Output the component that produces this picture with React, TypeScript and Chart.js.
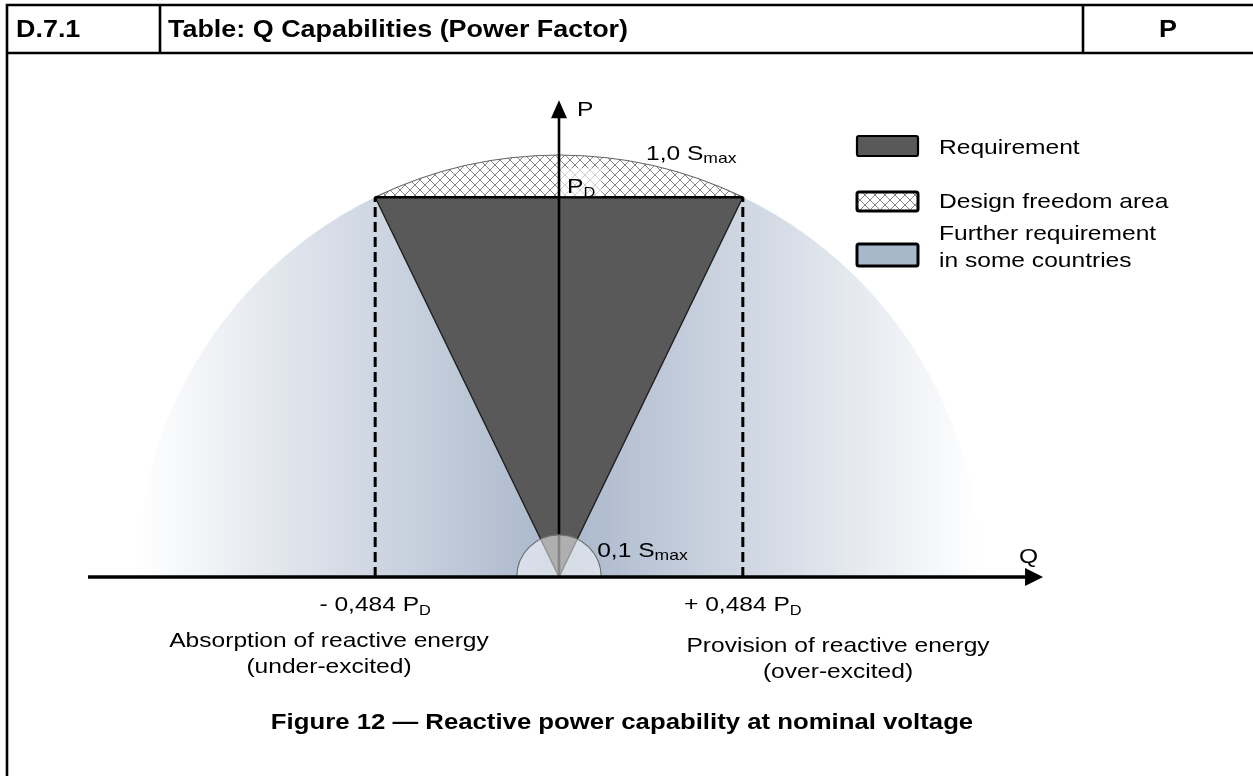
import { useEffect, useRef } from "react";
import { Chart, registerables } from "chart.js";

Chart.register(...registerables);

// ---------- data ----------
const S_MAX = 1.0; // apparent power limit (large semicircle)
const S_MIN = 0.1; // small semicircle near the origin
const P_D = 0.9; // design active power
const Q_FACTORS = [-0.484, 0.484]; // reactive power limits as factor of P_D
const Q_TICK_LABELS = ["- 0,484 P", "+ 0,484 P"];
const SIDE_LABELS = [
  ["Absorption of reactive energy", "(under-excited)"],
  ["Provision of reactive energy", "(over-excited)"],
];
const LEGEND_LABELS = [
  ["Requirement"],
  ["Design freedom area"],
  ["Further requirement", "in some countries"],
];
const HEADER_CELLS = ["D.7.1", "Table: Q Capabilities (Power Factor)", "P"];
const CAPTION = "Figure 12 \u2014 Reactive power capability at nominal voltage";
const AXIS_Q_RANGE = [-1.116, 1.147];
const AXIS_P_TOP = 1.13;

// view window (unit = one S_max)
const X_MIN = -1.3246;
const X_MAX = 1.6445;
const Y_MIN = -0.4716;
const Y_MAX = 1.3673;

const FONT = '"Liberation Sans", Arial, Helvetica, sans-serif';
const STRETCH = 1.17; // horizontal text stretch seen in the reference
const REQ_COLOR = "#595959";
const BLUE = "#a9b7cb";

type Part = { t: string; size: number; dy?: number; bold?: boolean };

function setFont(ctx: CanvasRenderingContext2D, p: Part) {
  ctx.font = `${p.bold ? "bold " : ""}${p.size}px ${FONT}`;
}
function richWidth(ctx: CanvasRenderingContext2D, parts: Part[]) {
  let w = 0;
  for (const p of parts) {
    setFont(ctx, p);
    w += ctx.measureText(p.t).width;
  }
  return w * STRETCH;
}
function drawRich(
  ctx: CanvasRenderingContext2D,
  parts: Part[],
  x: number,
  y: number,
  align: "left" | "center" = "left"
) {
  const x0 = align === "center" ? x - richWidth(ctx, parts) / 2 : x;
  ctx.save();
  ctx.translate(x0, y);
  ctx.scale(STRETCH, 1);
  ctx.textAlign = "left";
  ctx.textBaseline = "alphabetic";
  ctx.fillStyle = "#000";
  let cx = 0;
  for (const p of parts) {
    setFont(ctx, p);
    ctx.fillText(p.t, cx, p.dy || 0);
    cx += ctx.measureText(p.t).width;
  }
  ctx.restore();
}

function makeHatch(ctx: CanvasRenderingContext2D) {
  const c = document.createElement("canvas");
  c.width = 10;
  c.height = 10;
  const g = c.getContext("2d")!;
  g.fillStyle = "#ffffff";
  g.fillRect(0, 0, 10, 10);
  g.strokeStyle = "#858585";
  g.lineWidth = 1;
  g.beginPath();
  g.moveTo(-1, -1);
  g.lineTo(11, 11);
  g.moveTo(11, -1);
  g.lineTo(-1, 11);
  g.stroke();
  return ctx.createPattern(c, "repeat")!;
}

const diagramPlugin = {
  id: "diagram",
  beforeDraw(chart: any) {
    const ctx = chart.ctx as CanvasRenderingContext2D;
    ctx.save();
    ctx.fillStyle = "#fff";
    ctx.fillRect(0, 0, chart.width, chart.height);
    ctx.restore();
  },
  beforeDatasetsDraw(chart: any) {
    const ctx = chart.ctx as CanvasRenderingContext2D;
    const xs = chart.scales.x;
    const ys = chart.scales.y;
    const cx = xs.getPixelForValue(0);
    const cy = ys.getPixelForValue(0);
    const r = xs.getPixelForValue(S_MAX) - cx;
    ctx.save();
    // further requirement area (gradient semicircle)
    const grad = ctx.createLinearGradient(cx - r, 0, cx + r, 0);
    grad.addColorStop(0, "rgba(255,255,255,1)");
    grad.addColorStop(0.5, BLUE);
    grad.addColorStop(1, "rgba(255,255,255,1)");
    ctx.beginPath();
    ctx.arc(cx, cy, r, Math.PI, 2 * Math.PI);
    ctx.closePath();
    ctx.fillStyle = grad;
    ctx.fill();

    // design freedom area
    const xl = xs.getPixelForValue(Q_FACTORS[0] * P_D);
    const xr = xs.getPixelForValue(Q_FACTORS[1] * P_D);
    const yp = ys.getPixelForValue(P_D);
    const a1 = Math.atan2(yp - cy, xl - cx);
    const a2 = Math.atan2(yp - cy, xr - cx);
    ctx.beginPath();
    ctx.moveTo(xl, yp);
    ctx.arc(cx, cy, r, a1, a2, false);
    ctx.closePath();
    ctx.fillStyle = makeHatch(ctx);
    ctx.fill();
    ctx.beginPath();
    ctx.arc(cx, cy, r, a1, a2, false);
    ctx.strokeStyle = "#666";
    ctx.lineWidth = 1.2;
    ctx.stroke();
    ctx.restore();
  },
  afterDatasetsDraw(chart: any) {
    const ctx = chart.ctx as CanvasRenderingContext2D;
    const xs = chart.scales.x;
    const ys = chart.scales.y;
    const cx = xs.getPixelForValue(0);
    const cy = ys.getPixelForValue(0);
    const r = xs.getPixelForValue(S_MAX) - cx;
    const yp = ys.getPixelForValue(P_D);
    ctx.save();

    // light box behind P_D label
    ctx.fillStyle = "rgba(255,255,255,0.6)";
    ctx.fillRect(cx + 1.5, yp - 29, 41, 28);

    // P axis
    const pTip = ys.getPixelForValue(AXIS_P_TOP);
    ctx.strokeStyle = "#000";
    ctx.lineWidth = 2.6;
    ctx.beginPath();
    ctx.moveTo(cx, cy);
    ctx.lineTo(cx, pTip + 14);
    ctx.stroke();
    ctx.fillStyle = "#000";
    ctx.beginPath();
    ctx.moveTo(cx, pTip);
    ctx.lineTo(cx - 8, pTip + 18);
    ctx.lineTo(cx + 8, pTip + 18);
    ctx.closePath();
    ctx.fill();

    // small semicircle 0,1 Smax
    const rs = r * S_MIN;
    ctx.beginPath();
    ctx.arc(cx, cy, rs, Math.PI, 2 * Math.PI);
    ctx.closePath();
    ctx.fillStyle = "rgba(255,255,255,0.52)";
    ctx.fill();
    ctx.strokeStyle = "#707070";
    ctx.lineWidth = 1.2;
    ctx.beginPath();
    ctx.arc(cx, cy, rs, Math.PI, 2 * Math.PI);
    ctx.stroke();

    // Q axis
    const qL = xs.getPixelForValue(AXIS_Q_RANGE[0]);
    const qTip = xs.getPixelForValue(AXIS_Q_RANGE[1]);
    ctx.strokeStyle = "#000";
    ctx.lineWidth = 3.4;
    ctx.beginPath();
    ctx.moveTo(qL, cy);
    ctx.lineTo(qTip - 14, cy);
    ctx.stroke();
    ctx.fillStyle = "#000";
    ctx.beginPath();
    ctx.moveTo(qTip, cy);
    ctx.lineTo(qTip - 18, cy - 9);
    ctx.lineTo(qTip - 18, cy + 9);
    ctx.closePath();
    ctx.fill();

    // labels on the diagram
    drawRich(ctx, [{ t: "P", size: 21 }], cx + 18, pTip + 16);
    drawRich(ctx, [{ t: "1,0 S", size: 21 }, { t: "max", size: 15, dy: 3 }], cx + 87, 160);
    drawRich(ctx, [{ t: "P", size: 21 }, { t: "D", size: 14, dy: 4 }], cx + 8, yp - 4);
    drawRich(ctx, [{ t: "0,1 S", size: 21 }, { t: "max", size: 15, dy: 3 }], cx + rs - 4, cy - 20);
    drawRich(ctx, [{ t: "Q", size: 21 }], qTip - 24, cy - 14);

    Q_FACTORS.forEach((f, i) => {
      const x = xs.getPixelForValue(f * P_D);
      drawRich(
        ctx,
        [{ t: Q_TICK_LABELS[i], size: 21 }, { t: "D", size: 14, dy: 4 }],
        x,
        cy + 34,
        "center"
      );
    });
    const sideX = [cx - 230, cx + 279];
    SIDE_LABELS.forEach((lines, i) => {
      lines.forEach((ln, j) => {
        drawRich(ctx, [{ t: ln, size: 21 }], sideX[i], cy + 70 + i * 5 + j * 26, "center");
      });
    });

    // legend
    const lx = 857;
    const boxes = [
      { y: 136, h: 20 },
      { y: 192, h: 19 },
      { y: 244, h: 22 },
    ];
    const textY = [[154], [208], [240, 267]];
    const hatch = makeHatch(ctx);
    boxes.forEach((b, i) => {
      ctx.beginPath();
      if ((ctx as any).roundRect) (ctx as any).roundRect(lx, b.y, 61, b.h, 2);
      else ctx.rect(lx, b.y, 61, b.h);
      ctx.fillStyle = i === 0 ? REQ_COLOR : i === 1 ? hatch : BLUE;
      ctx.fill();
      ctx.strokeStyle = "#000";
      ctx.lineWidth = i === 0 ? 2.2 : 3;
      ctx.stroke();
      LEGEND_LABELS[i].forEach((ln, j) => {
        drawRich(ctx, [{ t: ln, size: 21 }], 939, textY[i][j]);
      });
    });

    // table frame + header
    ctx.strokeStyle = "#000";
    ctx.lineWidth = 2.6;
    ctx.beginPath();
    ctx.moveTo(5.7, 5);
    ctx.lineTo(chart.width, 5);
    ctx.moveTo(5.7, 53);
    ctx.lineTo(chart.width, 53);
    ctx.moveTo(7, 3.7);
    ctx.lineTo(7, chart.height);
    ctx.moveTo(160, 5);
    ctx.lineTo(160, 53);
    ctx.moveTo(1083, 5);
    ctx.lineTo(1083, 53);
    ctx.stroke();
    drawRich(ctx, [{ t: HEADER_CELLS[0], size: 23, bold: true }], 16, 37);
    drawRich(ctx, [{ t: HEADER_CELLS[1], size: 23, bold: true }], 168, 37);
    drawRich(ctx, [{ t: HEADER_CELLS[2], size: 23, bold: true }], 1168, 37, "center");

    // caption
    drawRich(ctx, [{ t: CAPTION, size: 22, bold: true }], 622, 729, "center");
    ctx.restore();
  },
};

export default function App() {
  const ref = useRef<HTMLCanvasElement | null>(null);
  useEffect(() => {
    document.body.style.margin = "0";
    const canvas = ref.current!;
    const ql = Q_FACTORS[0] * P_D;
    const qr = Q_FACTORS[1] * P_D;
    const chart = new Chart(canvas, {
      type: "scatter",
      data: {
        datasets: [
          {
            label: "Requirement top",
            data: [
              { x: ql, y: P_D },
              { x: qr, y: P_D },
            ],
            showLine: true,
            borderColor: "#000",
            borderWidth: 2.6,
            pointRadius: 0,
            fill: false,
            order: 0,
          },
          {
            label: "Requirement",
            data: [
              { x: 0, y: 0 },
              { x: ql, y: P_D },
              { x: qr, y: P_D },
              { x: 0, y: 0 },
            ],
            showLine: true,
            borderColor: "#1e1e1e",
            borderWidth: 1.4,
            backgroundColor: REQ_COLOR,
            pointRadius: 0,
            fill: "shape",
            order: 2,
          },
          {
            label: "Limit left",
            data: [
              { x: ql, y: 0 },
              { x: ql, y: P_D },
            ],
            showLine: true,
            borderColor: "#000",
            borderWidth: 3,
            borderDash: [10, 5],
            pointRadius: 0,
            fill: false,
            order: 1,
          },
          {
            label: "Limit right",
            data: [
              { x: qr, y: 0 },
              { x: qr, y: P_D },
            ],
            showLine: true,
            borderColor: "#000",
            borderWidth: 3,
            borderDash: [10, 5],
            pointRadius: 0,
            fill: false,
            order: 1,
          },
        ] as any,
      },
      options: {
        responsive: false,
        animation: false,
        events: [],
        layout: { padding: 0 },
        plugins: {
          legend: { display: false },
          tooltip: { enabled: false },
        },
        scales: {
          x: { type: "linear", min: X_MIN, max: X_MAX, display: false },
          y: { type: "linear", min: Y_MIN, max: Y_MAX, display: false },
        },
      },
      plugins: [diagramPlugin],
    });
    return () => chart.destroy();
  }, []);
  return (
    <div style={{ position: "fixed", left: 0, top: 0, width: 1253, height: 776 }}>
      <canvas ref={ref} width={1253} height={776} style={{ display: "block" }} />
    </div>
  );
}
